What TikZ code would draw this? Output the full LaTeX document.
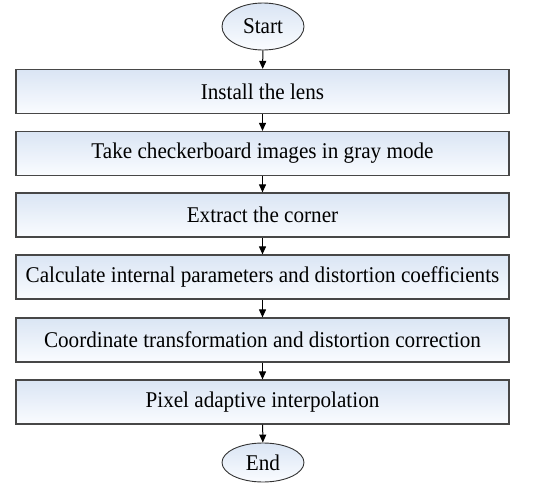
\documentclass[tikz,border=0pt]{standalone}
\usepackage{fontspec}
\setmainfont{Liberation Serif}[FakeStretch=0.94]
\usetikzlibrary{shapes.geometric,arrows.meta}
\definecolor{boxtop}{RGB}{218,229,244}
\definecolor{boxbot}{RGB}{250,252,255}
\begin{document}
\begin{tikzpicture}[x=1pt,y=1pt,font=\fontsize{22.5}{25}\selectfont,
  stepbox/.style={draw=black!72,line width=1.2pt,top color=boxtop,bottom color=boxbot,minimum width=493pt,minimum height=44pt,inner sep=0pt},
  term/.style={ellipse,draw=black!80,line width=0.9pt,top color=boxtop,bottom color=boxbot,minimum width=82pt,inner sep=0pt},
  arr/.style={-{Triangle[length=8pt,width=7pt]},line width=1pt}]
\useasboundingbox (0,0) rectangle (550,-498);
\node[term,minimum height=47pt] (start) at (263,-26.5) {Start};
\node[stepbox] (lens) at (262.5,-91.5) {Install the lens};
\node[stepbox] (take) at (262.5,-153.5) {Take checkerboard images in gray mode};
\node[stepbox] (corner) at (262.5,-215) {Extract the corner};
\node[stepbox] (calc) at (262.5,-277) {Calculate internal parameters and distortion coefficients};
\node[stepbox] (coord) at (262.5,-340) {Coordinate transformation and distortion correction};
\node[stepbox] (pixel) at (262.5,-402) {Pixel adaptive interpolation};
\node[term,minimum height=39pt] (end) at (263,-462.5) {End};
\draw[arr] (start) -- (lens);
\draw[arr] (lens) -- (take);
\draw[arr] (take) -- (corner);
\draw[arr] (corner) -- (calc);
\draw[arr] (calc) -- (coord);
\draw[arr] (coord) -- (pixel);
\draw[arr] (pixel) -- (end);
\end{tikzpicture}
\end{document}
